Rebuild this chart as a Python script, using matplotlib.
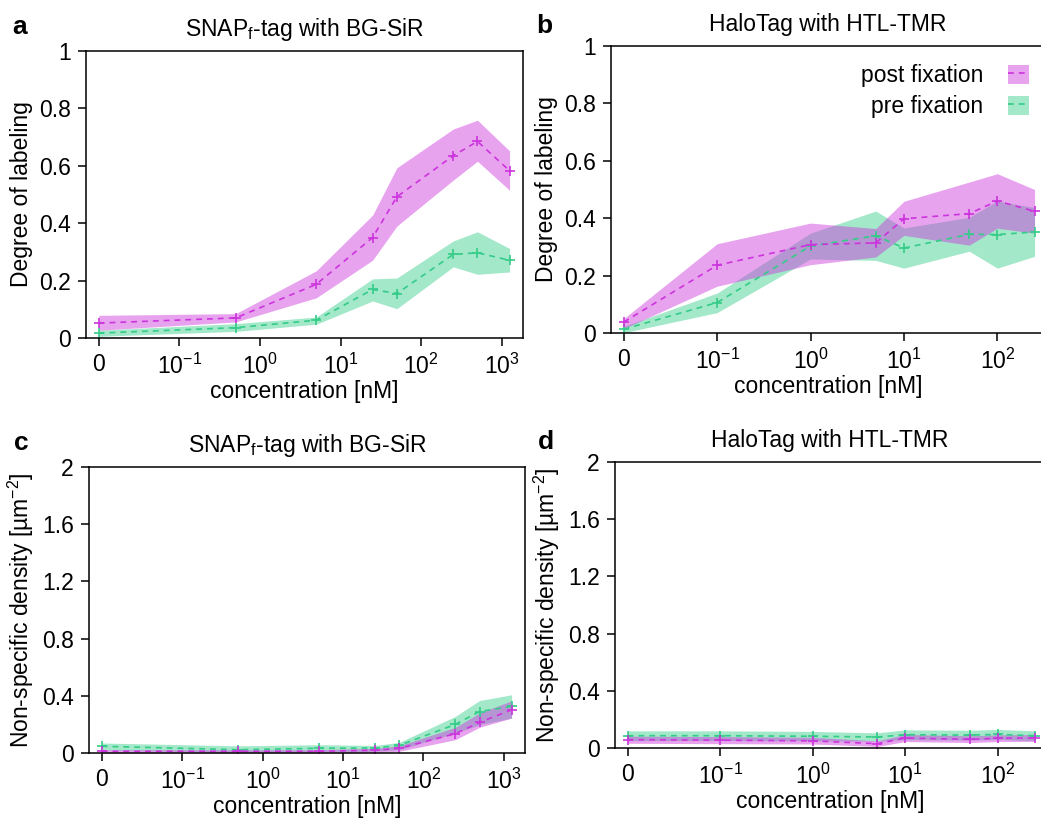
import numpy as np
import matplotlib
matplotlib.use('Agg')
import matplotlib.pyplot as plt
from matplotlib.patches import Patch
from matplotlib.lines import Line2D
from matplotlib.ticker import FixedLocator, NullLocator, FixedFormatter

plt.rcParams['font.family'] = ['Liberation Sans', 'DejaVu Sans']
plt.rcParams['mathtext.fontset'] = 'custom'
plt.rcParams['mathtext.rm'] = 'Liberation Sans'
plt.rcParams['mathtext.it'] = 'Liberation Sans:italic'
plt.rcParams['mathtext.bf'] = 'Liberation Sans:bold'

# concentrations [nM]
conc_snap = [0, 0.5, 5, 25, 50, 250, 500, 1250]
conc_halo = [0, 0.1, 1, 5, 10, 50, 100, 250]

# degree of labeling, SNAPf-tag
dol_snap_post = [0.052, 0.070, 0.187, 0.350, 0.492, 0.635, 0.685, 0.583]
dol_snap_post_lo = [0.027, 0.056, 0.140, 0.271, 0.390, 0.550, 0.616, 0.515]
dol_snap_post_hi = [0.079, 0.085, 0.234, 0.428, 0.593, 0.728, 0.759, 0.652]
dol_snap_pre = [0.017, 0.036, 0.062, 0.169, 0.155, 0.291, 0.297, 0.271]
dol_snap_pre_lo = [0.006, 0.023, 0.048, 0.129, 0.102, 0.248, 0.222, 0.230]
dol_snap_pre_hi = [0.027, 0.050, 0.073, 0.206, 0.209, 0.338, 0.370, 0.312]

# degree of labeling, HaloTag
dol_halo_post = [0.038, 0.236, 0.308, 0.314, 0.398, 0.416, 0.460, 0.424]
dol_halo_post_lo = [0.015, 0.163, 0.238, 0.265, 0.340, 0.306, 0.365, 0.348]
dol_halo_post_hi = [0.050, 0.311, 0.383, 0.364, 0.459, 0.526, 0.555, 0.500]
dol_halo_pre = [0.013, 0.106, 0.303, 0.339, 0.296, 0.344, 0.343, 0.352]
dol_halo_pre_lo = [0.001, 0.071, 0.258, 0.253, 0.226, 0.285, 0.226, 0.267]
dol_halo_pre_hi = [0.023, 0.139, 0.348, 0.425, 0.366, 0.403, 0.460, 0.437]

# non-specific density [um^-2], SNAPf-tag
nsd_snap_post = [0.012, 0.012, 0.012, 0.019, 0.033, 0.135, 0.214, 0.302]
nsd_snap_post_lo = [0.000, 0.000, 0.000, 0.004, 0.012, 0.093, 0.180, 0.244]
nsd_snap_post_hi = [0.023, 0.023, 0.023, 0.033, 0.050, 0.180, 0.280, 0.365]
nsd_snap_pre = [0.047, 0.023, 0.033, 0.035, 0.053, 0.200, 0.290, 0.326]
nsd_snap_pre_lo = [0.020, 0.005, 0.007, 0.012, 0.023, 0.140, 0.198, 0.244]
nsd_snap_pre_hi = [0.070, 0.050, 0.058, 0.053, 0.074, 0.256, 0.367, 0.407]

# non-specific density [um^-2], HaloTag
nsd_halo_post = [0.058, 0.055, 0.050, 0.030, 0.070, 0.060, 0.068, 0.070]
nsd_halo_post_lo = [0.033, 0.030, 0.028, 0.011, 0.045, 0.038, 0.045, 0.046]
nsd_halo_post_hi = [0.083, 0.080, 0.075, 0.050, 0.095, 0.085, 0.092, 0.094]
nsd_halo_pre = [0.086, 0.086, 0.082, 0.077, 0.093, 0.090, 0.095, 0.086]
nsd_halo_pre_lo = [0.052, 0.052, 0.050, 0.048, 0.058, 0.056, 0.060, 0.052]
nsd_halo_pre_hi = [0.120, 0.120, 0.116, 0.106, 0.127, 0.124, 0.130, 0.120]

MAG = '#cc33dd'
GRN = '#33cc88'
ALPHA = 0.45
FS = 16.5
DASH = (0, (3.5, 3))

snap_title = r'SNAP$_\mathrm{f}$-tag with BG-SiR'
halo_title = 'HaloTag with HTL-TMR'


def t_inv(t):
    # inverse of symlog (linthresh 0.1, one decade linear part)
    return t / 10.0 if t <= 1 else 10 ** (t - 2)


def draw(ax, x, post, post_lo, post_hi, pre, pre_lo, pre_hi):
    ax.fill_between(x, pre_lo, pre_hi, color=GRN, alpha=ALPHA, lw=0)
    ax.fill_between(x, post_lo, post_hi, color=MAG, alpha=ALPHA, lw=0)
    ax.plot(x, pre, ls=DASH, color=GRN, lw=1.2, marker='+', ms=7.5, mew=1.2)
    ax.plot(x, post, ls=DASH, color=MAG, lw=1.2, marker='+', ms=7.5, mew=1.2)


def style(ax, xticks, xlim, yticks, ylabels, ylabel, title):
    ax.set_xscale('symlog', linthresh=0.1, linscale=0.9)
    ax.set_xlim(*xlim)
    ax.xaxis.set_major_locator(FixedLocator(xticks))
    ax.xaxis.set_minor_locator(NullLocator())
    labs = ['0'] + [r'$10^{%d}$' % int(np.log10(v)) for v in xticks[1:]]
    ax.xaxis.set_major_formatter(FixedFormatter(labs))
    ax.set_yticks(yticks)
    ax.set_yticklabels(ylabels)
    ax.set_ylim(yticks[0], yticks[-1])
    ax.tick_params(labelsize=FS, length=6, width=1.1, direction='out', pad=5)
    for s in ax.spines.values():
        s.set_linewidth(1.1)
    ax.set_xlabel('concentration [nM]', fontsize=FS, labelpad=1)
    ax.set_ylabel(ylabel, fontsize=FS, labelpad=4)
    ax.set_title(title, fontsize=FS, pad=11)


fig = plt.figure(figsize=(10.41, 8.18), dpi=100)
W, H = 1041.0, 818.0


def box(l, t, r, b):
    return [l / W, 1 - b / H, (r - l) / W, (b - t) / H]


ax_a = fig.add_axes(box(86, 51, 523, 338))
ax_b = fig.add_axes(box(611, 46, 1045, 333))
ax_c = fig.add_axes(box(89, 467, 525, 753))
ax_d = fig.add_axes(box(615, 462, 1045, 748))

xlim_snap = (t_inv(-0.158), t_inv(5.264))
xlim_halo = (t_inv(-0.136), t_inv(4.51))
xt_snap = [0, 0.1, 1, 10, 100, 1000]
xt_halo = [0, 0.1, 1, 10, 100]

dol_ticks = [0, 0.2, 0.4, 0.6, 0.8, 1.0]
dol_labels = ['0', '0.2', '0.4', '0.6', '0.8', '1']
nsd_ticks = [0, 0.4, 0.8, 1.2, 1.6, 2.0]
nsd_labels = ['0', '0.4', '0.8', '1.2', '1.6', '2']
nsd_ylabel = r'Non-specific density [µm$^{-2}$]'

draw(ax_a, conc_snap, dol_snap_post, dol_snap_post_lo, dol_snap_post_hi,
     dol_snap_pre, dol_snap_pre_lo, dol_snap_pre_hi)
style(ax_a, xt_snap, xlim_snap, dol_ticks, dol_labels, 'Degree of labeling', snap_title)

draw(ax_b, conc_halo, dol_halo_post, dol_halo_post_lo, dol_halo_post_hi,
     dol_halo_pre, dol_halo_pre_lo, dol_halo_pre_hi)
style(ax_b, xt_halo, xlim_halo, dol_ticks, dol_labels, 'Degree of labeling', halo_title)

draw(ax_c, conc_snap, nsd_snap_post, nsd_snap_post_lo, nsd_snap_post_hi,
     nsd_snap_pre, nsd_snap_pre_lo, nsd_snap_pre_hi)
style(ax_c, xt_snap, xlim_snap, nsd_ticks, nsd_labels, nsd_ylabel, snap_title)

draw(ax_d, conc_halo, nsd_halo_post, nsd_halo_post_lo, nsd_halo_post_hi,
     nsd_halo_pre, nsd_halo_pre_lo, nsd_halo_pre_hi)
style(ax_d, xt_halo, xlim_halo, nsd_ticks, nsd_labels, nsd_ylabel, halo_title)

# legend in panel b
handles = [
    (Patch(facecolor=MAG, alpha=ALPHA, lw=0), Line2D([], [], color=MAG, ls=DASH, lw=1.2)),
    (Patch(facecolor=GRN, alpha=ALPHA, lw=0), Line2D([], [], color=GRN, ls=DASH, lw=1.2)),
]
fig.legend(handles, ['post fixation', 'pre fixation'], loc='upper right',
           bbox_to_anchor=(1029 / W, 1 - 64 / H), frameon=False, markerfirst=False,
           fontsize=FS, handlelength=0.9, handleheight=0.9, handletextpad=1.1,
           labelspacing=0.35, borderpad=0, borderaxespad=0)

for lab, x, y in [('a', 12, 34), ('b', 536, 33), ('c', 14, 450), ('d', 538, 449)]:
    fig.text(x / W, 1 - y / H, lab, fontsize=19, fontweight='bold', va='baseline')

fig.savefig('out.png', dpi=100)
